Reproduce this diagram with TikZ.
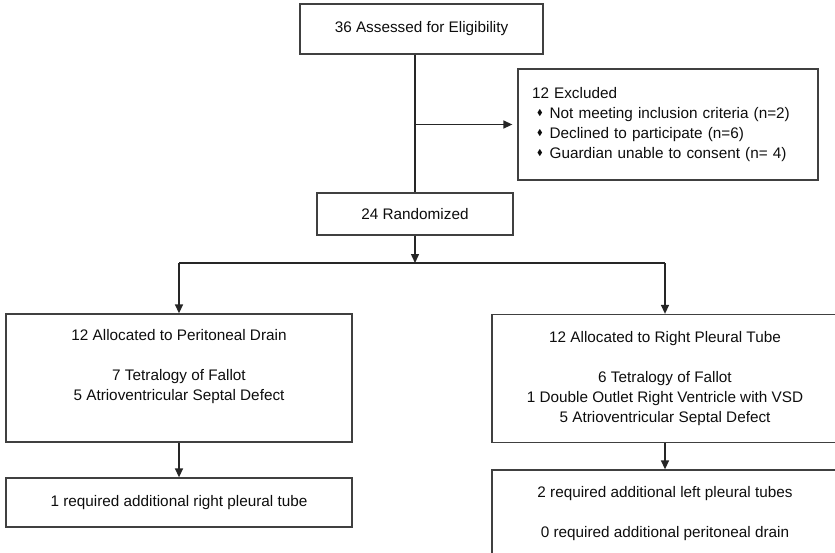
\documentclass[tikz,border=0pt]{standalone}
\usepackage{fontspec}
\setmainfont{Liberation Sans}
\usepackage{amssymb}
\usetikzlibrary{arrows.meta}

\newcommand\armwidth{346pt}
\newcommand\armheight{128pt}
\newcommand\gap{20pt}
\newcommand\dmd{\hspace{5pt}\raisebox{0.35ex}{\scalebox{0.55}{$\blacklozenge$}}\hspace{7pt}}

\begin{document}
\begin{tikzpicture}[
    every node/.style={font=\fontsize{15.3}{20}\selectfont, text=black!95},
    box/.style={draw=black!75, line width=1.3pt, inner sep=0pt, align=center},
    flow/.style={draw=black!85, line width=1.4pt, -{Triangle[length=9pt,width=8pt]}},
    link/.style={draw=black!85, line width=1.4pt}
  ]
    \path[use as bounding box] (0,0) rectangle (835pt,-552pt);

    \node[box,minimum width=243pt,minimum height=50pt] (assess) at (421.5pt,-29pt) {36 Assessed for Eligibility};
    \node[box,minimum width=300pt,minimum height=111pt,text width=272pt,align=left] (excl) at (668pt,-124.5pt)
      {12 Excluded\\
       \dmd Not meeting inclusion criteria (n=2)\\
       \dmd Declined to participate (n=6)\\
       \dmd Guardian unable to consent (n= 4)};
    \node[box,minimum width=196pt,minimum height=42pt] (rand) at (415pt,-214pt) {24 Randomized};

    \node[box,minimum width=\armwidth,minimum height=\armheight] (peri) at (179pt,-378pt)
      {12 Allocated to Peritoneal Drain\\[\gap]7 Tetralogy of Fallot\\5 Atrioventricular Septal Defect\\[7pt]\mbox{}};
    \node[box,minimum width=\armwidth,minimum height=\armheight] (pleu) at (665pt,-378.5pt)
      {12 Allocated to Right Pleural Tube\\[\gap]6 Tetralogy of Fallot\\1 Double Outlet Right Ventricle with VSD\\5 Atrioventricular Septal Defect};

    \node[box,minimum width=\armwidth,minimum height=49pt] (perifu) at (179pt,-502.5pt) {1 required additional right pleural tube};
    \node[box,minimum width=\armwidth,minimum height=88pt] (pleufu) at (665pt,-514pt)
      {2 required additional left pleural tubes\\[\gap]0 required additional peritoneal drain};

    % screening
    \coordinate (branch) at (rand.north |- excl.west);
    \draw[link] (rand.north |- assess.south) -- (rand.north);
    \draw[flow,shorten >=5pt] (branch) -- (excl.west);

    % allocation
    \coordinate (fork) at (415pt,-263pt);
    \draw[flow] (rand.south) -- (fork);
    \draw[link] (peri.north |- fork) -- (pleu.north |- fork);
    \draw[flow] (peri.north |- fork) -- (peri.north);
    \draw[flow] (pleu.north |- fork) -- (pleu.north);

    % follow-up
    \draw[flow] (peri.south) -- (perifu.north);
    \draw[flow] (pleu.south) -- (pleufu.north);
\end{tikzpicture}
\end{document}
